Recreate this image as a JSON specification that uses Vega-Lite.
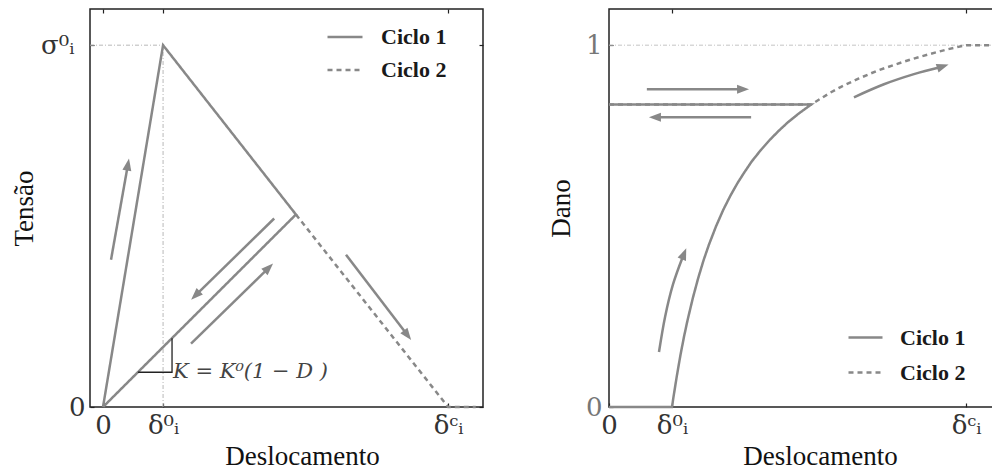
{
  "$schema": "https://vega.github.io/schema/vega-lite/v6.json",
  "padding": {"left": 9, "top": 7, "right": 0, "bottom": 0},
  "spacing": 61,
  "config": {
    "font": "Liberation Serif",
    "view": {"stroke": "#222", "strokeWidth": 1.5},
    "axis": {"labelFont": "DejaVu Serif", "titleFont": "Liberation Serif", "labelFontSize": 26, "titleFontSize": 27, "titleFontWeight": "normal", "labelColor": "#333", "titleColor": "#111", "tickColor": "#222", "tickWidth": 1.2, "grid": false, "domain": false, "labelOverlap": false, "labelFlush": false}
  },
  "resolve": {"scale": {"strokeDash": "independent"}, "legend": {"strokeDash": "independent"}},
  "datasets": {
    "refsL": [
      {"x": -0.0377, "y": 1, "x2": 0.174, "y2": 1},
      {"x": 0.174, "y": 0, "x2": 0.174, "y2": 1}
    ],
    "linesL": [
      {"ciclo": "Ciclo 1", "o": 1, "x": 0, "y": 0},
      {"ciclo": "Ciclo 1", "o": 2, "x": 0.174, "y": 1},
      {"ciclo": "Ciclo 1", "o": 3, "x": 0.559, "y": 0.532},
      {"ciclo": "Ciclo 1", "o": 4, "x": 0, "y": 0},
      {"ciclo": "Ciclo 2", "o": 1, "x": 0.559, "y": 0.532},
      {"ciclo": "Ciclo 2", "o": 2, "x": 1, "y": 0},
      {"ciclo": "Ciclo 2", "o": 3, "x": 1.08, "y": 0}
    ],
    "slopeL": [
      {"o": 1, "x": 0.101, "y": 0.096},
      {"o": 2, "x": 0.2, "y": 0.096},
      {"o": 3, "x": 0.2, "y": 0.19}
    ],
    "formulaL": [{"x": 0.203, "y": 0.097, "t": "K = K⁰(1 − D )"}],
    "arrL": [
      {"id": 1, "o": 1, "x": 0.0232, "y": 0.407},
      {"id": 1, "o": 2, "x": 0.0707, "y": 0.662},
      {"id": 2, "o": 1, "x": 0.496, "y": 0.521},
      {"id": 2, "o": 2, "x": 0.274, "y": 0.314},
      {"id": 3, "o": 1, "x": 0.255, "y": 0.175},
      {"id": 3, "o": 2, "x": 0.474, "y": 0.379},
      {"id": 4, "o": 1, "x": 0.704, "y": 0.421},
      {"id": 4, "o": 2, "x": 0.877, "y": 0.205}
    ],
    "headL": [
      {"x": 0.0707, "y": 0.662, "a": 10.1},
      {"x": 0.274, "y": 0.314, "a": 225.7},
      {"x": 0.474, "y": 0.379, "a": 45.7},
      {"x": 0.877, "y": 0.205, "a": 142.6}
    ],
    "refsR": [
      {"x": 0, "y": 1, "x2": 1.081, "y2": 1}
    ],
    "linesR": [
      {"ciclo": "Ciclo 1", "o": 1, "x": 0, "y": 0},
      {"ciclo": "Ciclo 1", "o": 2, "x": 0.1765, "y": 0},
      {"ciclo": "Ciclo 1", "o": 3, "x": 0.18, "y": 0.024},
      {"ciclo": "Ciclo 1", "o": 4, "x": 0.19, "y": 0.086},
      {"ciclo": "Ciclo 1", "o": 5, "x": 0.2, "y": 0.143},
      {"ciclo": "Ciclo 1", "o": 6, "x": 0.21, "y": 0.194},
      {"ciclo": "Ciclo 1", "o": 7, "x": 0.22, "y": 0.24},
      {"ciclo": "Ciclo 1", "o": 8, "x": 0.235, "y": 0.302},
      {"ciclo": "Ciclo 1", "o": 9, "x": 0.25, "y": 0.357},
      {"ciclo": "Ciclo 1", "o": 10, "x": 0.265, "y": 0.406},
      {"ciclo": "Ciclo 1", "o": 11, "x": 0.28, "y": 0.449},
      {"ciclo": "Ciclo 1", "o": 12, "x": 0.3, "y": 0.5},
      {"ciclo": "Ciclo 1", "o": 13, "x": 0.32, "y": 0.545},
      {"ciclo": "Ciclo 1", "o": 14, "x": 0.34, "y": 0.584},
      {"ciclo": "Ciclo 1", "o": 15, "x": 0.36, "y": 0.619},
      {"ciclo": "Ciclo 1", "o": 16, "x": 0.38, "y": 0.65},
      {"ciclo": "Ciclo 1", "o": 17, "x": 0.4, "y": 0.679},
      {"ciclo": "Ciclo 1", "o": 18, "x": 0.425, "y": 0.71},
      {"ciclo": "Ciclo 1", "o": 19, "x": 0.45, "y": 0.738},
      {"ciclo": "Ciclo 1", "o": 20, "x": 0.475, "y": 0.763},
      {"ciclo": "Ciclo 1", "o": 21, "x": 0.5, "y": 0.786},
      {"ciclo": "Ciclo 1", "o": 22, "x": 0.53, "y": 0.81},
      {"ciclo": "Ciclo 1", "o": 23, "x": 0.566, "y": 0.836},
      {"ciclo": "Ciclo 1", "o": 24, "x": 0, "y": 0.836},
      {"ciclo": "Ciclo 2", "o": 1, "x": 0, "y": 0.836},
      {"ciclo": "Ciclo 2", "o": 2, "x": 0.566, "y": 0.836},
      {"ciclo": "Ciclo 2", "o": 3, "x": 0.62, "y": 0.869},
      {"ciclo": "Ciclo 2", "o": 4, "x": 0.65, "y": 0.885},
      {"ciclo": "Ciclo 2", "o": 5, "x": 0.7, "y": 0.908},
      {"ciclo": "Ciclo 2", "o": 6, "x": 0.75, "y": 0.929},
      {"ciclo": "Ciclo 2", "o": 7, "x": 0.8, "y": 0.946},
      {"ciclo": "Ciclo 2", "o": 8, "x": 0.85, "y": 0.962},
      {"ciclo": "Ciclo 2", "o": 9, "x": 0.9, "y": 0.976},
      {"ciclo": "Ciclo 2", "o": 10, "x": 0.95, "y": 0.989},
      {"ciclo": "Ciclo 2", "o": 11, "x": 1.0, "y": 1.0},
      {"ciclo": "Ciclo 2", "o": 12, "x": 1.081, "y": 1.0}
    ],
    "arrR": [
      {"id": 5, "o": 1, "x": 0.14, "y": 0.152},
      {"id": 5, "o": 2, "x": 0.157, "y": 0.249},
      {"id": 5, "o": 3, "x": 0.179, "y": 0.338},
      {"id": 5, "o": 4, "x": 0.207, "y": 0.416},
      {"id": 6, "o": 1, "x": 0.106, "y": 0.878},
      {"id": 6, "o": 2, "x": 0.367, "y": 0.878},
      {"id": 7, "o": 1, "x": 0.398, "y": 0.801},
      {"id": 7, "o": 2, "x": 0.137, "y": 0.801},
      {"id": 8, "o": 1, "x": 0.686, "y": 0.856},
      {"id": 8, "o": 2, "x": 0.77, "y": 0.892},
      {"id": 8, "o": 3, "x": 0.854, "y": 0.92},
      {"id": 8, "o": 4, "x": 0.927, "y": 0.939}
    ],
    "headR": [
      {"x": 0.207, "y": 0.416, "a": 21.8},
      {"x": 0.367, "y": 0.878, "a": 90},
      {"x": 0.137, "y": 0.801, "a": 270},
      {"x": 0.927, "y": 0.939, "a": 71.6}
    ]
  },
  "hconcat": [
    {
      "width": 393,
      "height": 398,
      "resolve": {"axis": {"x": "independent", "y": "independent"}},
      "layer": [
        {
          "data": {"name": "refsL"},
          "mark": {"type": "rule", "color": "#b8b8b8", "strokeWidth": 1, "strokeDash": [4, 2, 1, 2]},
          "encoding": {
            "x": {"field": "x", "type": "quantitative", "scale": {"domain": [-0.0377, 1.101], "nice": false, "zero": false}, "axis": {"orient": "top", "values": [0, 0.174, 1], "labels": false, "title": null, "tickSize": -4}},
            "y": {"field": "y", "type": "quantitative", "scale": {"domain": [0, 1.1], "nice": false, "zero": false}, "axis": {"orient": "right", "values": [0, 1], "labels": false, "title": null, "tickSize": -4}},
            "x2": {"field": "x2"},
            "y2": {"field": "y2"}
          }
        },
        {
          "data": {"name": "linesL"},
          "mark": {"type": "line", "color": "#888888", "strokeWidth": 2.5},
          "encoding": {
            "x": {"field": "x", "type": "quantitative", "axis": {"orient": "bottom", "values": [0, 0.174, 1], "labelExpr": "datum.value == 0 ? '0' : (datum.value < 0.5 ? 'δ⁰ᵢ' : 'δᶜᵢ')", "tickSize": -4, "labelPadding": 9, "title": "Deslocamento", "titleX": 212, "titleY": 36, "titleAlign": "center", "titleBaseline": "top"}},
            "y": {"field": "y", "type": "quantitative", "axis": {"orient": "left", "values": [0, 1], "labelExpr": "datum.value == 0 ? '0' : 'σ⁰ᵢ'", "tickSize": -4, "labelPadding": {"condition": {"test": "datum.value == 1", "value": 20}, "value": 9}, "labelBaseline": "middle", "title": "Tensão", "titleX": -66, "titleBaseline": "middle"}},
            "order": {"field": "o"},
            "strokeDash": {
              "field": "ciclo", "type": "nominal",
              "scale": {"domain": ["Ciclo 1", "Ciclo 2"], "range": [[1, 0], [5, 4]]},
              "legend": {"orient": "none", "legendX": 236, "legendY": 9, "title": null, "symbolType": "stroke", "symbolSize": 1225, "symbolStrokeWidth": 2.5, "symbolStrokeColor": "#888888", "labelFont": "Liberation Serif", "labelFontSize": 22, "labelFontWeight": "bold", "labelColor": "#1a1a1a", "labelOffset": 17, "rowPadding": 3}
            }
          }
        },
        {
          "data": {"name": "slopeL"},
          "mark": {"type": "line", "color": "#222", "strokeWidth": 1.3},
          "encoding": {
            "x": {"field": "x", "type": "quantitative", "axis": null},
            "y": {"field": "y", "type": "quantitative", "axis": null},
            "order": {"field": "o"}
          }
        },
        {
          "data": {"name": "formulaL"},
          "mark": {"type": "text", "align": "left", "baseline": "middle", "fontSize": 21, "fontStyle": "italic", "font": "DejaVu Serif", "color": "#444"},
          "encoding": {
            "x": {"field": "x", "type": "quantitative", "axis": null},
            "y": {"field": "y", "type": "quantitative", "axis": null},
            "text": {"field": "t"}
          }
        },
        {
          "data": {"name": "arrL"},
          "mark": {"type": "line", "color": "#888888", "strokeWidth": 2.5},
          "encoding": {
            "x": {"field": "x", "type": "quantitative", "axis": null},
            "y": {"field": "y", "type": "quantitative", "axis": null},
            "detail": {"field": "id"},
            "order": {"field": "o"}
          }
        },
        {
          "data": {"name": "headL"},
          "mark": {"type": "point", "shape": "M0,-0.9L0.45,0.3L-0.45,0.3Z", "filled": true, "color": "#888888", "opacity": 1, "size": 400, "strokeWidth": 0},
          "encoding": {
            "x": {"field": "x", "type": "quantitative", "axis": null},
            "y": {"field": "y", "type": "quantitative", "axis": null},
            "angle": {"field": "a", "type": "quantitative", "scale": null}
          }
        }
      ]
    },
    {
      "width": 386,
      "height": 398,
      "resolve": {"axis": {"x": "independent", "y": "independent"}},
      "layer": [
        {
          "data": {"name": "refsR"},
          "mark": {"type": "rule", "color": "#c4c4c4", "strokeWidth": 1, "strokeDash": [4, 2, 1, 2]},
          "encoding": {
            "x": {"field": "x", "type": "quantitative", "scale": {"domain": [0, 1.081], "nice": false, "zero": false}, "axis": {"orient": "top", "values": [0.1765, 1], "labels": false, "title": null, "tickSize": -4}},
            "y": {"field": "y", "type": "quantitative", "scale": {"domain": [0, 1.1], "nice": false, "zero": false}, "axis": null},
            "x2": {"field": "x2"},
            "y2": {"field": "y2"}
          }
        },
        {
          "data": {"name": "linesR"},
          "mark": {"type": "line", "color": "#888888", "strokeWidth": 2.5},
          "encoding": {
            "x": {"field": "x", "type": "quantitative", "axis": {"orient": "bottom", "values": [0, 0.1765, 1], "labelExpr": "datum.value == 0 ? '0' : (datum.value < 0.5 ? 'δ⁰ᵢ' : 'δᶜᵢ')", "tickSize": -4, "labelPadding": 9, "title": "Deslocamento", "titleX": 211, "titleY": 36, "titleAlign": "center", "titleBaseline": "top"}},
            "y": {"field": "y", "type": "quantitative", "axis": {"orient": "left", "values": [0, 1], "labelExpr": "datum.value == 0 ? '0' : '1'", "labelColor": "#777", "tickSize": -4, "labelPadding": 11, "labelBaseline": "middle", "title": "Dano", "titleX": -48, "titleBaseline": "middle"}},
            "order": {"field": "o"},
            "strokeDash": {
              "field": "ciclo", "type": "nominal",
              "scale": {"domain": ["Ciclo 1", "Ciclo 2"], "range": [[1, 0], [5, 4]]},
              "legend": {"orient": "none", "legendX": 238, "legendY": 310, "title": null, "symbolType": "stroke", "symbolSize": 1156, "symbolStrokeWidth": 2.5, "symbolStrokeColor": "#888888", "labelFont": "Liberation Serif", "labelFontSize": 22, "labelFontWeight": "bold", "labelColor": "#1a1a1a", "labelOffset": 16, "rowPadding": 5}
            }
          }
        },
        {
          "data": {"name": "arrR"},
          "mark": {"type": "line", "color": "#888888", "strokeWidth": 2.5, "interpolate": "cardinal"},
          "encoding": {
            "x": {"field": "x", "type": "quantitative", "axis": null},
            "y": {"field": "y", "type": "quantitative", "axis": null},
            "detail": {"field": "id"},
            "order": {"field": "o"}
          }
        },
        {
          "data": {"name": "headR"},
          "mark": {"type": "point", "shape": "M0,-0.9L0.45,0.3L-0.45,0.3Z", "filled": true, "color": "#888888", "opacity": 1, "size": 400, "strokeWidth": 0},
          "encoding": {
            "x": {"field": "x", "type": "quantitative", "axis": null},
            "y": {"field": "y", "type": "quantitative", "axis": null},
            "angle": {"field": "a", "type": "quantitative", "scale": null}
          }
        }
      ]
    }
  ]
}
